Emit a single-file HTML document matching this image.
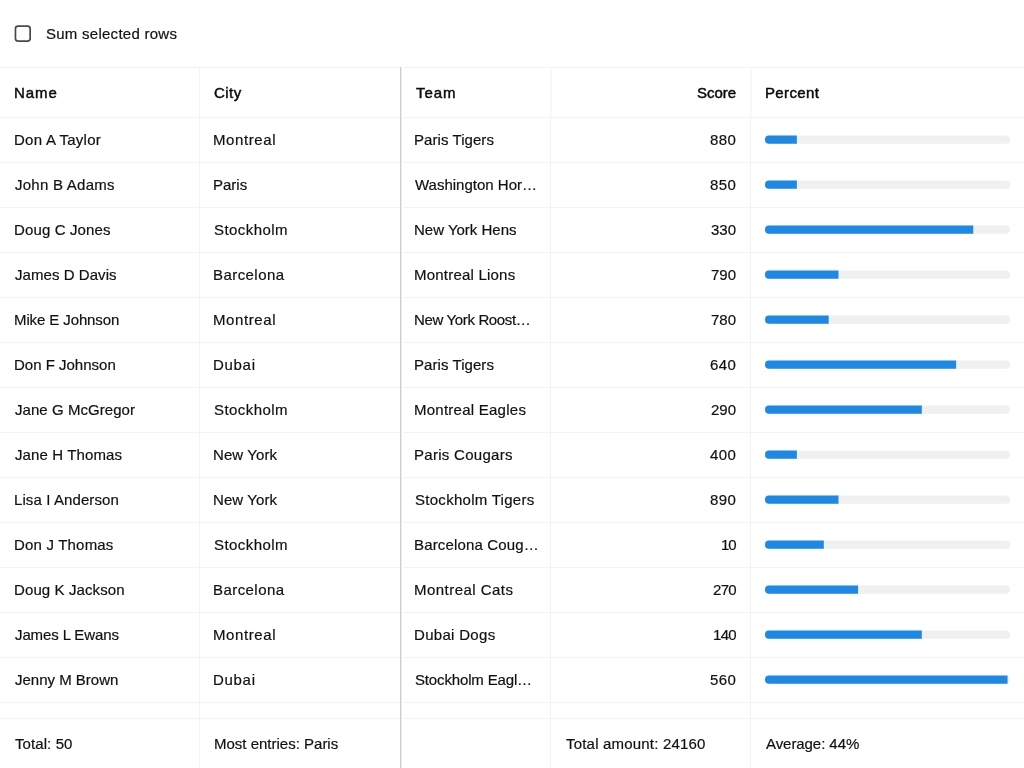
<!DOCTYPE html>
<html><head><meta charset="utf-8"><style>
html,body{margin:0;padding:0;background:#fff;width:1024px;height:768px;overflow:hidden;}
body{position:relative;font-family:"Liberation Sans",sans-serif;color:#111111;}
.t{position:absolute;white-space:nowrap;will-change:transform;-webkit-text-stroke:0.2px #111111;font-size:15px;line-height:20px;height:20px;}
.h{-webkit-text-stroke:0.45px #0a0a0a;color:#0a0a0a;}
.hl{position:absolute;left:0;width:1024px;height:1px;background:#f3f3f3;}
.vl{position:absolute;top:67px;width:1px;height:701px;background:#f3f3f3;}
</style></head><body>
<svg style="position:absolute;left:0;top:0" width="60" height="60"><rect x="15.45" y="26.1" width="14.7" height="15.0" rx="2.6" fill="none" stroke="#4a4a4a" stroke-width="1.7"/></svg>
<div class="hl" style="top:67px"></div>
<div class="hl" style="top:117px"></div>
<div class="hl" style="top:162px"></div>
<div class="hl" style="top:207px"></div>
<div class="hl" style="top:252px"></div>
<div class="hl" style="top:297px"></div>
<div class="hl" style="top:342px"></div>
<div class="hl" style="top:387px"></div>
<div class="hl" style="top:432px"></div>
<div class="hl" style="top:477px"></div>
<div class="hl" style="top:522px"></div>
<div class="hl" style="top:567px"></div>
<div class="hl" style="top:612px"></div>
<div class="hl" style="top:657px"></div>
<div class="hl" style="top:702px"></div>
<div class="hl" style="top:718px"></div>
<div class="vl" style="left:199px"></div>
<div class="vl" style="left:550px;top:118px;height:650px"></div>
<div class="vl" style="left:550px;top:67px;height:50px;width:2px;background:#f8f8f8"></div>
<div class="vl" style="left:750px;top:118px;height:650px"></div>
<div class="vl" style="left:750px;top:67px;height:50px;width:2px;background:#f8f8f8"></div>
<div class="vl" style="left:400px;background:#cfcdcb"></div>
<div class="vl" style="left:401px;background:#ebebeb"></div>
<div class="vl" style="left:402px;background:#ffffff"></div>
<div class="t " style="left:46.00px;top:24px;letter-spacing:0.262px">Sum selected rows</div>
<div class="t h" style="left:14.00px;top:82.5px;letter-spacing:0.933px">Name</div>
<div class="t h" style="left:214.00px;top:82.5px;letter-spacing:0.467px">City</div>
<div class="t h" style="left:416.00px;top:82.5px;letter-spacing:0.933px">Team</div>
<div class="t h" style="right:288.00px;margin-right:-0.000px;top:82.5px;letter-spacing:0.000px">Score</div>
<div class="t h" style="left:765.00px;top:82.5px;letter-spacing:0.350px">Percent</div>
<div class="t " style="left:14.00px;top:130px;letter-spacing:0.255px">Don A Taylor</div>
<div class="t " style="left:213.00px;top:130px;letter-spacing:0.600px">Montreal</div>
<div class="t " style="left:414.00px;top:130px;letter-spacing:0.064px">Paris Tigers</div>
<div class="t " style="right:288.00px;margin-right:-0.350px;top:130px;letter-spacing:0.350px">880</div>
<div class="t " style="left:15.00px;top:175px;letter-spacing:0.255px">John B Adams</div>
<div class="t " style="left:213.00px;top:175px;letter-spacing:0.000px">Paris</div>
<div class="t " style="left:415.00px;top:175px;letter-spacing:0.000px">Washington Hor…</div>
<div class="t " style="right:288.00px;margin-right:-0.350px;top:175px;letter-spacing:0.350px">850</div>
<div class="t " style="left:14.00px;top:220px;letter-spacing:0.127px">Doug C Jones</div>
<div class="t " style="left:214.00px;top:220px;letter-spacing:0.438px">Stockholm</div>
<div class="t " style="left:414.00px;top:220px;letter-spacing:0.000px">New York Hens</div>
<div class="t " style="right:288.00px;margin-right:-0.000px;top:220px;letter-spacing:0.000px">330</div>
<div class="t " style="left:15.00px;top:265px;letter-spacing:0.058px">James D Davis</div>
<div class="t " style="left:213.00px;top:265px;letter-spacing:0.438px">Barcelona</div>
<div class="t " style="left:414.00px;top:265px;letter-spacing:0.215px">Montreal Lions</div>
<div class="t " style="right:288.00px;margin-right:-0.000px;top:265px;letter-spacing:0.000px">790</div>
<div class="t " style="left:14.00px;top:310px;letter-spacing:-0.108px">Mike E Johnson</div>
<div class="t " style="left:213.00px;top:310px;letter-spacing:0.600px">Montreal</div>
<div class="t " style="left:414.00px;top:310px;letter-spacing:-0.350px">New York Roost…</div>
<div class="t " style="right:288.00px;margin-right:-0.000px;top:310px;letter-spacing:0.000px">780</div>
<div class="t " style="left:14.00px;top:355px;letter-spacing:0.000px">Don F Johnson</div>
<div class="t " style="left:213.00px;top:355px;letter-spacing:0.700px">Dubai</div>
<div class="t " style="left:414.00px;top:355px;letter-spacing:0.064px">Paris Tigers</div>
<div class="t " style="right:288.00px;margin-right:-0.350px;top:355px;letter-spacing:0.350px">640</div>
<div class="t " style="left:15.00px;top:400px;letter-spacing:0.050px">Jane G McGregor</div>
<div class="t " style="left:214.00px;top:400px;letter-spacing:0.438px">Stockholm</div>
<div class="t " style="left:414.00px;top:400px;letter-spacing:0.250px">Montreal Eagles</div>
<div class="t " style="right:288.00px;margin-right:-0.000px;top:400px;letter-spacing:0.000px">290</div>
<div class="t " style="left:15.00px;top:445px;letter-spacing:0.117px">Jane H Thomas</div>
<div class="t " style="left:213.00px;top:445px;letter-spacing:0.100px">New York</div>
<div class="t " style="left:414.00px;top:445px;letter-spacing:0.292px">Paris Cougars</div>
<div class="t " style="right:288.00px;margin-right:-0.350px;top:445px;letter-spacing:0.350px">400</div>
<div class="t " style="left:14.00px;top:490px;letter-spacing:0.100px">Lisa I Anderson</div>
<div class="t " style="left:213.00px;top:490px;letter-spacing:0.100px">New York</div>
<div class="t " style="left:415.00px;top:490px;letter-spacing:0.280px">Stockholm Tigers</div>
<div class="t " style="right:288.00px;margin-right:-0.350px;top:490px;letter-spacing:0.350px">890</div>
<div class="t " style="left:14.00px;top:535px;letter-spacing:0.191px">Don J Thomas</div>
<div class="t " style="left:214.00px;top:535px;letter-spacing:0.438px">Stockholm</div>
<div class="t " style="left:414.00px;top:535px;letter-spacing:0.150px">Barcelona Coug…</div>
<div class="t " style="right:287.00px;margin-right:1.000px;top:535px;letter-spacing:-1.000px">10</div>
<div class="t " style="left:14.00px;top:580px;letter-spacing:0.108px">Doug K Jackson</div>
<div class="t " style="left:213.00px;top:580px;letter-spacing:0.438px">Barcelona</div>
<div class="t " style="left:414.00px;top:580px;letter-spacing:0.467px">Montreal Cats</div>
<div class="t " style="right:287.00px;margin-right:0.700px;top:580px;letter-spacing:-0.700px">270</div>
<div class="t " style="left:15.00px;top:625px;letter-spacing:-0.117px">James L Ewans</div>
<div class="t " style="left:213.00px;top:625px;letter-spacing:0.600px">Montreal</div>
<div class="t " style="left:414.00px;top:625px;letter-spacing:0.311px">Dubai Dogs</div>
<div class="t " style="right:287.00px;margin-right:0.700px;top:625px;letter-spacing:-0.700px">140</div>
<div class="t " style="left:15.00px;top:670px;letter-spacing:0.000px">Jenny M Brown</div>
<div class="t " style="left:213.00px;top:670px;letter-spacing:0.700px">Dubai</div>
<div class="t " style="left:415.00px;top:670px;letter-spacing:-0.150px">Stockholm Eagl…</div>
<div class="t " style="right:288.00px;margin-right:-0.350px;top:670px;letter-spacing:0.350px">560</div>
<div class="t " style="left:15.00px;top:733.5px;letter-spacing:0.087px">Total: 50</div>
<div class="t " style="left:214.00px;top:733.5px;letter-spacing:0.000px">Most entries: Paris</div>
<div class="t " style="left:566.00px;top:733.5px;letter-spacing:0.194px">Total amount: 24160</div>
<div class="t " style="left:766.00px;top:733.5px;letter-spacing:-0.064px">Average: 44%</div>
<svg style="position:absolute;left:0;top:0" width="1024" height="768"><rect x="765" y="135.60" width="245" height="8.2" rx="4.1" fill="#f0f0f0"/><path d="M769.1,135.60 H796.85 V143.80 H769.1 A4.1,4.1 0 0 1 769.1,135.60 Z" fill="#1e88e5"/><rect x="765" y="180.60" width="245" height="8.2" rx="4.1" fill="#f0f0f0"/><path d="M769.1,180.60 H796.85 V188.80 H769.1 A4.1,4.1 0 0 1 769.1,180.60 Z" fill="#1e88e5"/><rect x="765" y="225.60" width="245" height="8.2" rx="4.1" fill="#f0f0f0"/><path d="M769.1,225.60 H973.25 V233.80 H769.1 A4.1,4.1 0 0 1 769.1,225.60 Z" fill="#1e88e5"/><rect x="765" y="270.60" width="245" height="8.2" rx="4.1" fill="#f0f0f0"/><path d="M769.1,270.60 H838.50 V278.80 H769.1 A4.1,4.1 0 0 1 769.1,270.60 Z" fill="#1e88e5"/><rect x="765" y="315.60" width="245" height="8.2" rx="4.1" fill="#f0f0f0"/><path d="M769.1,315.60 H828.70 V323.80 H769.1 A4.1,4.1 0 0 1 769.1,315.60 Z" fill="#1e88e5"/><rect x="765" y="360.60" width="245" height="8.2" rx="4.1" fill="#f0f0f0"/><path d="M769.1,360.60 H956.10 V368.80 H769.1 A4.1,4.1 0 0 1 769.1,360.60 Z" fill="#1e88e5"/><rect x="765" y="405.60" width="245" height="8.2" rx="4.1" fill="#f0f0f0"/><path d="M769.1,405.60 H921.80 V413.80 H769.1 A4.1,4.1 0 0 1 769.1,405.60 Z" fill="#1e88e5"/><rect x="765" y="450.60" width="245" height="8.2" rx="4.1" fill="#f0f0f0"/><path d="M769.1,450.60 H796.85 V458.80 H769.1 A4.1,4.1 0 0 1 769.1,450.60 Z" fill="#1e88e5"/><rect x="765" y="495.60" width="245" height="8.2" rx="4.1" fill="#f0f0f0"/><path d="M769.1,495.60 H838.50 V503.80 H769.1 A4.1,4.1 0 0 1 769.1,495.60 Z" fill="#1e88e5"/><rect x="765" y="540.60" width="245" height="8.2" rx="4.1" fill="#f0f0f0"/><path d="M769.1,540.60 H823.80 V548.80 H769.1 A4.1,4.1 0 0 1 769.1,540.60 Z" fill="#1e88e5"/><rect x="765" y="585.60" width="245" height="8.2" rx="4.1" fill="#f0f0f0"/><path d="M769.1,585.60 H858.10 V593.80 H769.1 A4.1,4.1 0 0 1 769.1,585.60 Z" fill="#1e88e5"/><rect x="765" y="630.60" width="245" height="8.2" rx="4.1" fill="#f0f0f0"/><path d="M769.1,630.60 H921.80 V638.80 H769.1 A4.1,4.1 0 0 1 769.1,630.60 Z" fill="#1e88e5"/><rect x="765" y="675.60" width="245" height="8.2" rx="4.1" fill="#f0f0f0"/><path d="M769.1,675.60 H1007.55 V683.80 H769.1 A4.1,4.1 0 0 1 769.1,675.60 Z" fill="#1e88e5"/></svg>
</body></html>
